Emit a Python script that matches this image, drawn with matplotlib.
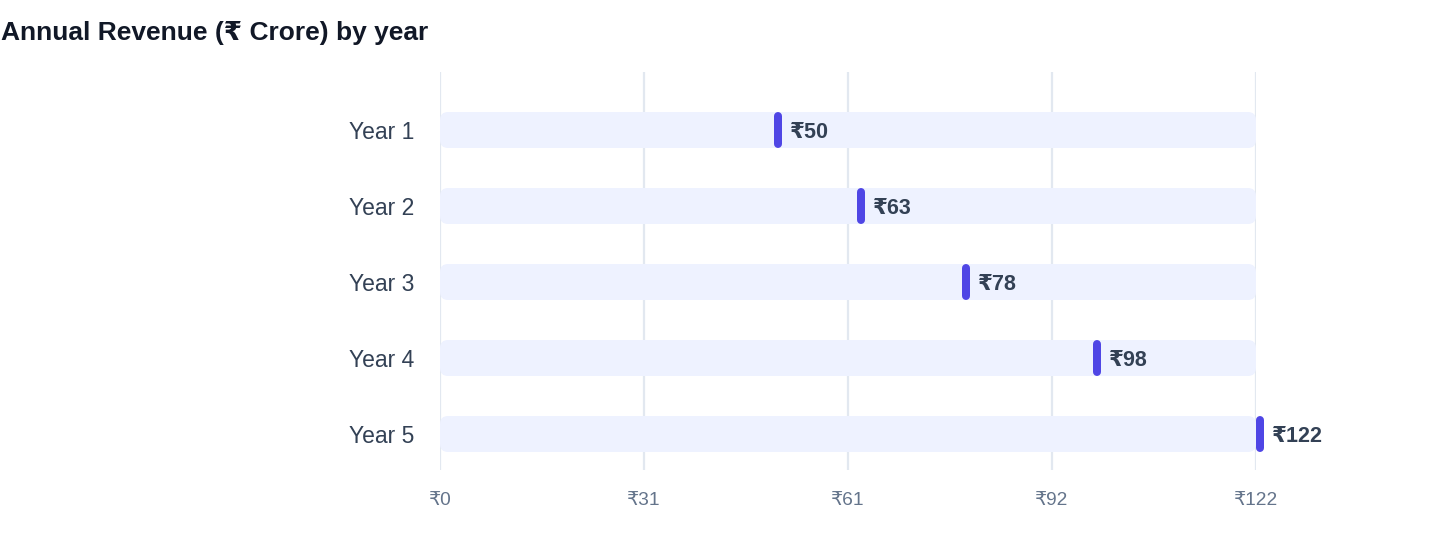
import matplotlib
matplotlib.use("Agg")
import matplotlib.pyplot as plt
from matplotlib.patches import FancyBboxPatch
from matplotlib.transforms import offset_copy

categories = ["Year 1", "Year 2", "Year 3", "Year 4", "Year 5"]
values = [50.5, 63.0, 78.7, 98.2, 122.6]
value_labels = ["₹50", "₹63", "₹78", "₹98", "₹122"]
track_max = 122
tick_values = [0, 30.5, 61, 91.5, 122]
tick_labels = ["₹0", "₹31", "₹61", "₹92", "₹122"]
title = "Annual Revenue (₹ Crore) by year"

FONTS = ["Liberation Sans", "DejaVu Sans"]
plt.rcParams["font.family"] = FONTS

W, H = 1440, 560
fig = plt.figure(figsize=(W / 100, H / 100), dpi=100)
left_px, right_px, top_px, bottom_px = 440, 1256, 72, 470
ax = fig.add_axes([left_px / W, 1 - bottom_px / H, (right_px - left_px) / W, (bottom_px - top_px) / H])

row_px = 76
ax.set_xlim(0, track_max)
ax.set_ylim(4 + 36 / row_px, -58 / row_px)

px_x = (right_px - left_px) / track_max  # px per x unit
px_y = row_px                              # px per y unit
bar_h = 36 / px_y
aspect = px_x / px_y

for s in ax.spines.values():
    s.set_visible(False)

for t in tick_values:
    ax.axvline(t, color="#E2E8F0", lw=1.6, zorder=0)

tr_lab = offset_copy(ax.transData, fig=fig, x=12 * 0.72, y=0, units="points")
for i, (cat, v, lab) in enumerate(zip(categories, values, value_labels)):
    r = 8 / px_x
    p = FancyBboxPatch((0, i - bar_h / 2), track_max, bar_h,
                       boxstyle=f"round,pad=0,rounding_size={r}",
                       mutation_aspect=aspect, facecolor="#EEF2FF",
                       edgecolor="none", zorder=1)
    ax.add_patch(p)
    ax.plot([v, v], [i - 14 / px_y, i + 14 / px_y], color="#4F46E5", lw=8 * 0.72,
            solid_capstyle="round", zorder=3, clip_on=False)
    ax.text(v, i, lab, transform=tr_lab, ha="left", va="center_baseline", fontsize=15.5,
            fontweight="bold", color="#334155", zorder=4, clip_on=False)

ax.set_yticks(range(len(categories)))
ax.set_yticklabels(categories, fontsize=16.5, color="#334155")
ax.set_xticks(tick_values)
ax.set_xticklabels(tick_labels, fontsize=13.8, color="#64748B")
ax.tick_params(axis="y", length=0, pad=18.5)
ax.tick_params(axis="x", length=0, pad=16)

fig.text(1 / W, 1 - 33 / H, title, ha="left", va="center", fontsize=19,
         fontweight="bold", color="#111827")

fig.savefig("out.png", dpi=100, facecolor="white")
